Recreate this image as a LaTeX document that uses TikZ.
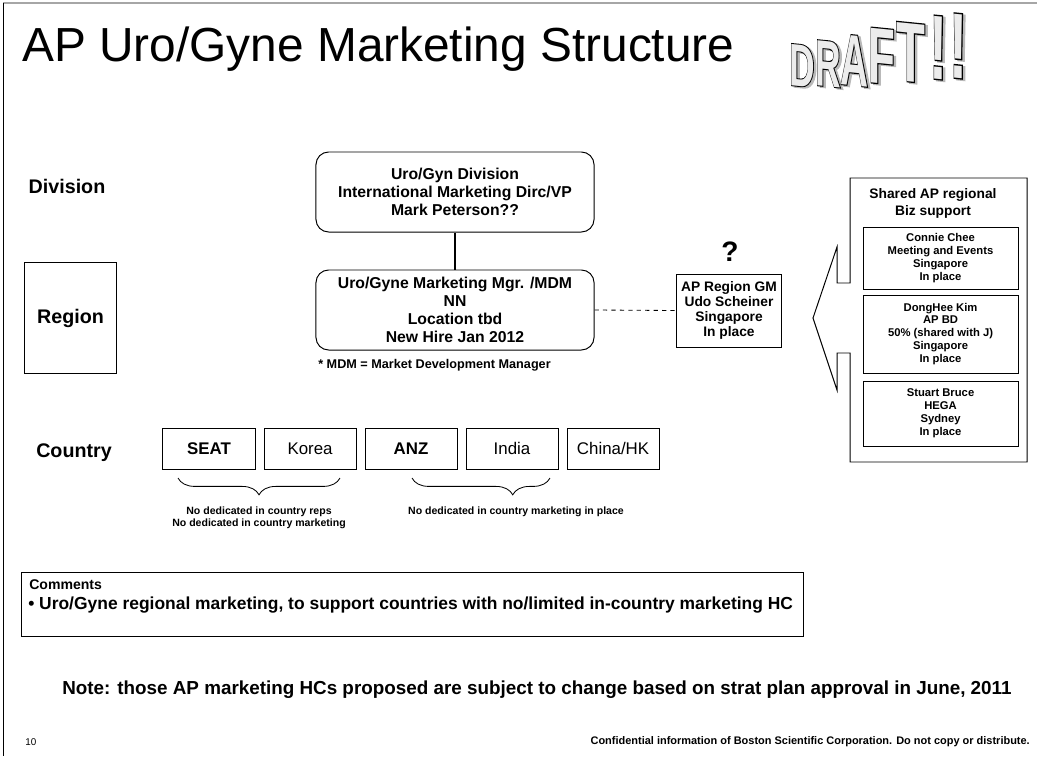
\documentclass[tikz,border=0pt]{standalone}
\usepackage{fontspec}
\setmainfont{Liberation Sans}
\newfontfamily\draftfont{Liberation Sans Bold}[FakeBold=3]
\usetikzlibrary{decorations.pathreplacing, positioning}

\begin{document}
\begin{tikzpicture}[
  x=0.025cm, y=-0.025cm,
  level/.style={
    font=\bfseries\fontsize{14}{16}\selectfont
  },
  lead/.style={
    rectangle,
    draw=black,
    line width=0.7pt,
    rounded corners=9pt,
    align=center,
    minimum width=6.95cm,
    minimum height=2cm,
    font=\bfseries\fontsize{11.2}{12.8}\selectfont
  },
  ctry/.style={
    rectangle,
    draw=black,
    line width=0.7pt,
    minimum width=2.3cm,
    minimum height=1.025cm,
    text height=1.8ex,
    text depth=0.4ex,
    font=\fontsize{12}{14}\selectfont
  },
  gm/.style={
    rectangle,
    draw=black,
    line width=0.7pt,
    align=center,
    minimum width=2.6cm,
    minimum height=1.825cm,
    font=\bfseries\fontsize{9.8}{10.6}\selectfont
  },
  biz/.style={
    rectangle,
    draw=black,
    line width=0.7pt,
    align=center,
    minimum width=3.875cm,
    font=\bfseries\fontsize{8}{9.2}\selectfont
  },
  stamp/.style={anchor=base west, inner sep=0pt, yslant=-0.1},
  note/.style={font=\bfseries\fontsize{7.5}{8.5}\selectfont, align=center},
  brace/.style={decorate, line width=0.6pt, decoration={brace, mirror, amplitude=0.42cm}},
  node distance=0.2cm
]
\useasboundingbox (0,0) rectangle (1037,756);

% slide frame
\draw[gray!70, line width=1.2pt] (3,3) -- (1037,3);
\draw[line width=1pt] (3.5,3) -- (3.5,756);

% title and stamp
\node[anchor=base west, inner sep=0pt, font=\fontsize{34}{40}\selectfont] (title) at (22,61) {AP Uro/Gyne Marketing Structure};
\foreach \ch/\px/\py/\sx/\sy [count=\i] in {D/789/85/1.05/1.78, R/815/85/1.05/1.94, A/840/84/1.15/2.15,
    F/868/82/1.3/2.35, T/896/80/1.4/2.5, !/929/78/1.6/2.7, !/949/77/1.6/2.75} {
  \node[stamp, xscale=\sx, yscale=\sy, text=gray!55, font=\draftfont\fontsize{24}{24}\selectfont] (shadow\i) at (\px+2.5,\py+1.5) {\ch};
  \node[stamp, xscale=\sx, yscale=\sy, text=black, font=\draftfont\fontsize{24}{24}\selectfont] (edge\i) at (\px,\py) {\ch};
  \node[stamp, xscale=\sx, yscale=\sy, text=gray!15, font=\bfseries\fontsize{24}{24}\selectfont] (face\i) at (\px,\py) {\ch};
}

% levels
\node[level] (division) at (67,186) {Division};
\node[level, draw, line width=0.7pt, minimum width=2.275cm, minimum height=2.75cm] (region) at (70.5,318) {Region};
\node[level] (country) at (74,453) {Country};

% division and region
\node[lead] (divhead) at (455,192) {Uro/Gyn Division\\International Marketing Dirc/VP\\Mark Peterson??};
\node[lead] (mgr) at (455,310) {Uro/Gyne Marketing Mgr. /MDM\\NN\\Location tbd\\New Hire Jan 2012};
\draw[line width=2pt] (divhead) -- (mgr);
\node[anchor=west, inner sep=0pt, font=\bfseries\fontsize{9}{11}\selectfont] (mdmnote) at (318,365) {* MDM = Market Development Manager};

\node[gm] (apgm) at (729,310.5) {AP Region GM\\Udo Scheiner\\Singapore\\In place};
\node[font=\bfseries\fontsize{20}{24}\selectfont] (query) at (730,252) {?};
\draw[dashed, line width=0.6pt] (mgr.east) -- (apgm.west);

% shared support callout
\draw[line width=0.7pt] (850,178) -- (1027,178) -- (1027,462) -- (850,462) -- (850,353) -- (837,353)
  -- (837,390) -- (813,318) -- (837,247) -- (837,283) -- (850,283) -- cycle;
\node[font=\bfseries\fontsize{9.8}{12}\selectfont, align=center] (shared) at (933,203.5) {Shared AP regional\\Biz support};
\node[biz, minimum height=1.55cm] (connie) at (940.5,258) {Connie Chee\\Meeting and Events\\Singapore\\In place};
\node[biz, minimum height=1.95cm] (donghee) at (940.5,334) {DongHee Kim\\AP BD\\50\% (shared with J)\\Singapore\\In place};
\node[biz, minimum height=1.625cm] (stuart) at (940.5,413.5) {Stuart Bruce\\HEGA\\Sydney\\In place};

% countries
\node[ctry] (seat) at (209,449) {\bfseries SEAT};
\node[ctry, right=of seat] (korea) {Korea};
\node[ctry, right=of korea] (anz) {\bfseries ANZ};
\node[ctry, right=of anz] (india) {India};
\node[ctry, right=of india] (chinahk) {China/HK};

\draw[brace] (178,478) -- (340,478);
\draw[brace, decoration={aspect=0.73}] (412,478) -- (550,478);
\node[note] (repsnote) at (259,518) {No dedicated in country reps\\No dedicated in country marketing};
\node[note] (mktnote) at (516,512) {No dedicated in country marketing in place};

% comments
\node[draw, line width=0.7pt, minimum width=19.525cm, minimum height=1.6cm] (commentbox) at (412.5,604) {};
\node[anchor=west, inner sep=0pt, font=\bfseries\fontsize{10}{12}\selectfont] (commhead) at (29,585) {Comments};
\node[anchor=west, inner sep=0pt, font=\bfseries\fontsize{12.4}{14}\selectfont] (commtext) at (28,605) {• Uro/Gyne regional marketing, to support countries with no/limited in-country marketing HC};

\node[anchor=west, inner sep=0pt, font=\bfseries\fontsize{13.4}{15}\selectfont] (approval) at (62,690) {Note: those AP marketing HCs proposed are subject to change based on strat plan approval in June, 2011};
\node[anchor=west, inner sep=0pt, font=\fontsize{7}{8}\selectfont] (pageno) at (25,742) {10};
\node[anchor=east, inner sep=0pt, font=\bfseries\fontsize{7.8}{9}\selectfont] (footer) at (1030,742) {Confidential information of Boston Scientific Corporation.  Do not copy or distribute.};
\end{tikzpicture}
\end{document}
